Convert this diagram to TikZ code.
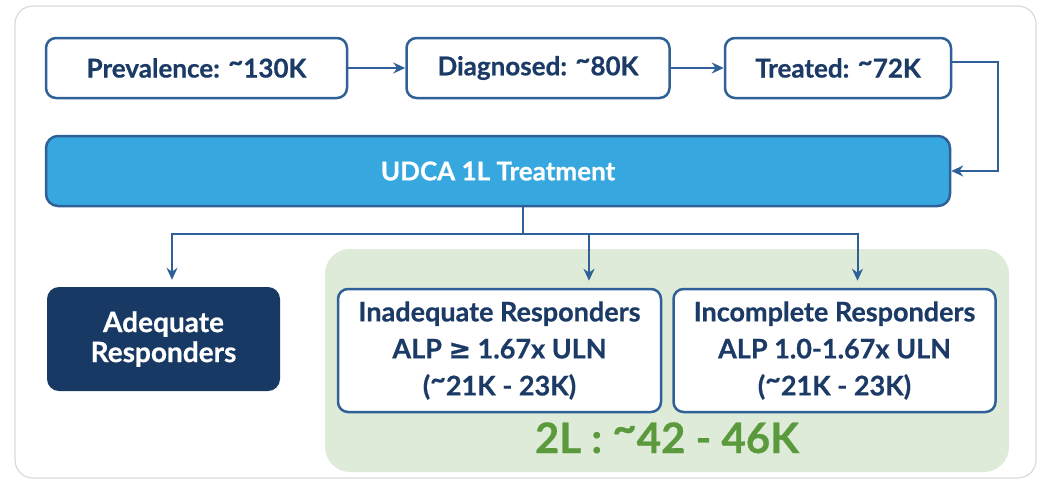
\documentclass[tikz,border=0pt]{standalone}
\usepackage{fontspec}
\setmainfont{Lato}[BoldFeatures={FakeBold=0.6}]
\newfontfamily\symfont{DejaVu Sans}[FakeBold=0.6]
\usetikzlibrary{positioning,arrows.meta}
\definecolor{navy}{HTML}{1B3A66}
\definecolor{edgeblue}{HTML}{2F6198}
\definecolor{udcablue}{HTML}{36A8DF}
\definecolor{darknavy}{HTML}{183963}
\definecolor{greenbg}{HTML}{DFEBD9}
\definecolor{greentext}{HTML}{5A9A3D}
\definecolor{cardgrey}{HTML}{DADADA}
\newcommand\approxsign{\raisebox{.25em}{\textasciitilde}}

\begin{document}
\begin{tikzpicture}[->,>={Stealth[length=12pt,width=11pt]},x=1pt,y=-1pt,
		link/.style={draw=edgeblue,line width=2pt},
		stage node/.style={rectangle,rounded corners=10pt,draw=edgeblue,line width=2.5pt,fill=white,text=navy,
			minimum height=60pt,font=\bfseries\fontsize{26}{30}\selectfont},
		treat effect/.style={rectangle,rounded corners=12pt,draw=edgeblue,line width=2.5pt,fill=udcablue,text=white,
			minimum width=904pt,minimum height=70pt,font=\bfseries\fontsize{26}{30}\selectfont},
		adequate effect/.style={rectangle,rounded corners=12pt,fill=darknavy,text=white,align=center,
			minimum width=233pt,minimum height=104pt,font=\bfseries\fontsize{28}{30}\selectfont},
		group effect/.style={rectangle,rounded corners=25pt,fill=greenbg,minimum width=684pt,minimum height=223pt},
		responder node/.style={rectangle,rounded corners=10pt,draw=edgeblue,line width=2.5pt,fill=white,text=navy,
			align=center,minimum width=323pt,minimum height=123pt,font=\bfseries\fontsize{27}{37}\selectfont}]
		
		\useasboundingbox (0,0) rectangle (1040,482);
		\draw[-,cardgrey,line width=1.2pt,rounded corners=18pt] (15,6) rectangle (1036,478);
		
		\node[stage node,minimum width=301pt] (1) at (196.5,68) {Prevalence: \approxsign130K};
		\node[stage node,minimum width=263pt] (2) [right=57pt of 1] {Diagnosed: \approxsign80K};
		\node[stage node,minimum width=226pt] (3) [right=53pt of 2] {Treated: \approxsign72K};
		\node[treat effect] (4) at (498,171) {UDCA 1L Treatment};
		\node[group effect] (6) at (667,360.5) {};
		\node[adequate effect] (5) at (163.5,339) {Adequate\\Responders};
		\node[responder node] (7) at (499.5,350.5) {Inadequate Responders\\ALP {\symfont ≥} 1.67x ULN\\(\approxsign21K - 23K)};
		\node[responder node,minimum width=322pt] (8) [right=10pt of 7] {Incomplete Responders\\ALP 1.0-1.67x ULN\\(\approxsign21K - 23K)};
		\node[anchor=base,text=greentext,font=\bfseries\fontsize{42}{46}\selectfont] (9) at (667,453) {2L : \approxsign42 - 46K};
		\coordinate (10) at (523,234);
		
		\path[link]
		(1) edge (2)
		(2) edge (3);
		\draw[link] ([yshift=6pt]3.east) -- ++(46pt,0) |- (4.east);
		\draw[link,-] (4.south -| 10) -- (10);
		\draw[link,shorten >=7pt] (10) -| ([xshift=8.5pt]5.north);
		\draw[link,shorten >=7pt] (10) -| ([xshift=89.5pt]7.north);
		\draw[link,shorten >=7pt] (10) -| ([xshift=23pt]8.north);
\end{tikzpicture}
\end{document}
